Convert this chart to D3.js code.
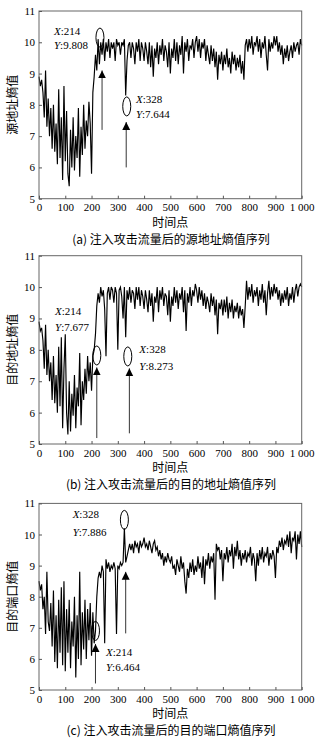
<!DOCTYPE html>
<html>
<head>
<meta charset="utf-8">
<script src="https://cdn.jsdelivr.net/npm/d3@7"></script>
<style>
  html, body { margin: 0; padding: 0; background: #fff; }
  svg { display: block; }
</style>
</head>
<body>
<div id="chart"></div>
<script>
// sample spacing of the series (time points)
const step = 5;
const xTicks = [0, 100, 200, 300, 400, 500, 600, 700, 800, 900, 1000];
const xTickLabels = ['0', '100', '200', '300', '400', '500', '600', '700', '800', '900', '1 000'];
const yTicks = [5, 6, 7, 8, 9, 10, 11];

const srcEntropy = [
  8.9, 8.6, 8.8, 8.4, 7.6, 9.1, 7.3, 8.2, 7.0, 7.9, 6.6, 8.0, 6.5, 7.4, 6.1, 8.5, 6.3, 7.6, 5.6, 8.6,
  6.2, 7.8, 5.8, 5.4, 7.2, 6.0, 7.6, 5.9, 7.0, 6.3, 7.9, 5.7, 7.3, 6.4, 8.0, 6.6, 7.5, 7.0, 8.1, 7.4,
  5.8, 8.4, 8.9, 9.6, 9.1, 10.1, 9.3, 10.0, 9.6, 10.1, 9.4, 10.0, 9.7, 10.1, 9.5, 10.0, 9.8, 10.0, 9.4, 10.1,
  9.9, 10.0, 9.6, 10.0, 9.9, 10.1, 8.3, 9.4, 9.9, 10.0, 9.5, 10.0, 9.8, 9.3, 10.0, 9.7, 10.1, 9.4, 10.0, 9.8,
  9.4, 10.0, 9.7, 9.3, 10.0, 9.2, 9.9, 8.9, 9.8, 9.5, 10.0, 9.3, 9.9, 9.6, 10.1, 9.4, 9.9, 9.7, 9.2, 10.0,
  9.0, 9.8, 9.5, 10.1, 9.4, 10.0, 9.3, 9.9, 9.6, 10.2, 9.0, 10.0, 9.7, 10.1, 9.4, 9.9, 9.8, 10.1, 9.5, 10.0,
  10.2, 9.7, 10.1, 9.5, 10.0, 9.8, 10.1, 9.4, 9.9, 9.6, 9.3, 9.9, 9.4, 9.8, 9.2, 9.7, 8.8, 9.6, 9.3, 9.7,
  9.1, 9.6, 9.3, 9.8, 9.2, 9.5, 9.0, 9.7, 9.3, 9.6, 9.1, 9.5, 9.2, 9.6, 9.0, 9.4, 8.8, 9.9, 10.1, 9.7,
  10.1, 9.8, 10.2, 9.6, 10.0, 9.9, 10.2, 9.7, 10.1, 9.5, 10.0, 9.8, 10.2, 9.6, 9.1, 10.1, 9.7, 10.0, 9.8, 10.2,
  9.9, 10.2, 9.7, 10.0, 9.6, 9.9, 9.3, 9.8, 9.5, 9.9, 9.4, 9.7, 9.9, 9.5, 10.0, 9.7, 9.9, 10.0, 9.6, 10.1,
  9.9
];

const dstEntropy = [
  8.9, 8.6, 8.7, 8.3, 7.4, 8.8, 7.2, 8.0, 7.0, 7.6, 6.4, 7.8, 6.3, 7.2, 6.0, 8.1, 6.2, 8.4, 5.5, 7.4,
  8.5, 6.0, 5.3, 7.0, 5.4, 6.6, 5.9, 7.2, 5.5, 6.8, 6.2, 7.9, 5.6, 7.0, 6.4, 7.4, 6.6, 7.8, 7.0, 7.6,
  6.7, 7.8, 8.0, 8.5, 9.4, 9.8, 9.5, 10.0, 9.7, 9.9, 9.3, 7.8, 9.8, 10.0, 9.6, 10.0, 9.9, 9.5, 10.0, 9.8,
  8.0, 9.9, 10.0, 9.7, 9.0, 10.0, 8.4, 9.9, 9.6, 10.0, 9.5, 9.9, 9.8, 9.3, 10.0, 9.6, 10.0, 9.4, 9.9, 9.7,
  9.3, 9.9, 9.6, 9.2, 9.9, 9.4, 9.8, 8.9, 9.7, 9.5, 10.0, 9.2, 9.9, 9.6, 10.0, 9.4, 9.8, 9.7, 9.1, 9.9,
  8.9, 9.7, 9.4, 10.0, 9.5, 9.9, 9.3, 9.8, 9.6, 10.0, 9.2, 9.9, 8.6, 9.8, 9.5, 10.0, 9.4, 9.9, 9.7, 10.1,
  9.9, 9.5, 10.0, 9.6, 9.9, 9.4, 9.8, 9.3, 9.7, 9.5, 9.2, 9.8, 9.4, 9.7, 9.1, 9.6, 8.5, 9.5, 9.3, 9.6,
  9.1, 9.6, 9.2, 9.7, 9.0, 9.5, 9.2, 9.6, 9.0, 9.4, 9.2, 9.5, 9.0, 9.4, 9.1, 9.3, 8.7, 9.4, 10.2, 9.6,
  10.0, 9.7, 10.1, 9.5, 9.9, 9.7, 10.0, 9.4, 9.9, 9.6, 10.1, 9.5, 9.9, 9.1, 9.8, 10.2, 9.6, 10.0, 9.7, 10.1,
  9.8, 10.0, 9.6, 9.9, 9.4, 9.8, 9.5, 9.9, 9.6, 10.0, 9.4, 9.8, 9.6, 10.0, 9.5, 9.9, 10.1, 9.7, 10.0, 10.1,
  10.0
];

const portEntropy = [
  8.5, 8.2, 8.4, 7.6, 8.0, 6.8, 8.8, 7.2, 6.9, 7.8, 6.4, 8.2, 5.9, 7.4, 5.7, 7.9, 6.2, 8.3, 5.8, 8.5,
  5.6, 7.6, 6.2, 7.9, 5.7, 7.2, 6.4, 8.0, 5.4, 7.4, 6.0, 8.8, 5.8, 7.5, 6.3, 7.9, 6.0, 7.6, 6.6, 7.8,
  6.1, 7.5, 6.5, 6.9, 8.0, 8.6, 8.8, 8.6, 9.0, 8.8, 6.5, 9.2, 8.9, 9.1, 8.8, 9.0, 8.9, 9.1, 8.9, 6.8,
  9.0, 8.9, 9.1, 9.0, 9.1, 10.2, 9.1, 9.3, 9.5, 9.7, 9.5, 9.7, 9.4, 9.8, 9.6, 9.7, 9.4, 9.8, 9.6, 9.7,
  9.9, 9.6, 9.7, 9.5, 9.8, 9.6, 9.4, 9.7, 9.8, 9.5, 9.6, 9.3, 9.5, 9.2, 9.4, 9.0, 9.3, 9.1, 9.4, 9.2,
  9.1, 9.3, 8.9, 9.0, 8.7, 9.2, 9.0, 8.8, 9.3, 8.9, 9.1, 8.5, 8.1, 8.9, 8.6, 9.1, 8.8, 9.2, 8.7, 9.0,
  8.8, 9.3, 8.9, 9.1, 8.6, 9.3, 8.4, 9.2, 9.0, 9.4, 8.9, 9.3, 9.1, 9.4, 7.9, 9.7, 9.5, 9.6, 9.2, 9.5,
  8.5, 9.4, 9.2, 9.6, 9.1, 9.5, 9.3, 9.7, 8.9, 9.6, 9.3, 9.8, 9.2, 9.5, 9.0, 9.4, 9.2, 9.5, 9.1, 9.4,
  9.3, 9.6, 9.0, 9.4, 9.2, 8.5, 9.4, 9.0, 9.5, 9.2, 9.6, 9.1, 9.4, 9.3, 9.6, 9.0, 9.4, 9.2, 9.5, 9.3,
  8.6, 9.6, 9.4, 9.8, 9.6, 9.9, 9.5, 9.8, 9.7, 10.0, 9.6, 10.1, 9.4, 9.9, 9.8, 10.1, 9.2, 10.0, 9.7, 10.1,
  9.6
];

const yTitles = ['源地址熵值', '目的地址熵值', '目的端口熵值'];
const captions = ['(a) 注入攻击流量后的源地址熵值序列', '(b) 注入攻击流量后的目的地址熵值序列', '(c) 注入攻击流量后的目的端口熵值序列'];

// annotations, in data units: ellipse centres, arrows (x, tail, tip), text (x, baseline values)
const marksA = [
  { cx: 232, cy: 10.15, ax: 240, a0: 7.2, a1: 9.1, tx: 57, t1: 10.23, t2: 9.78, xs: '214', ys: '9.808' },
  { cx: 334, cy: 7.95, ax: 332, a0: 6.0, a1: 7.45, tx: 369, t1: 8.07, t2: 7.57, xs: '328', ys: '7.644' }
];
const marksB = [
  { cx: 220, cy: 7.82, ax: 220, a0: 5.19, a1: 7.44, tx: 61, t1: 9.11, t2: 8.61, xs: '214', ys: '7.677' },
  { cx: 338, cy: 7.79, ax: 344, a0: 5.34, a1: 7.41, tx: 382, t1: 7.89, t2: 7.36, xs: '328', ys: '8.273' }
];
const marksC = [
  { cx: 325, cy: 10.47, ax: 330, a0: 6.82, a1: 8.8, tx: 128, t1: 10.52, t2: 9.96, xs: '328', ys: '7.886' },
  { cx: 215, cy: 6.9, ax: 215, a0: 5.21, a1: 6.48, tx: 255, t1: 6.1, t2: 5.6, xs: '214', ys: '6.464' }
];

const W = 324, H = 742;
const svg = d3.select('#chart').append('svg').attr('width', W).attr('height', H);

svg.append('defs').append('marker')
  .attr('id', 'head').attr('viewBox', '0 0 8 10').attr('refX', 8).attr('refY', 5)
  .attr('markerWidth', 8).attr('markerHeight', 10).attr('markerUnits', 'userSpaceOnUse')
  .attr('orient', 'auto')
  .append('path').attr('d', 'M0,1 L8,5 L0,9 Z').attr('fill', '#000');

const panels = [
  { values: srcEntropy, marks: marksA, top: 11, bottom: 198.7 },
  { values: dstEntropy, marks: marksB, top: 255.7, bottom: 444 },
  { values: portEntropy, marks: marksC, top: 503.4, bottom: 690 }
];
const left = 39, right = 301.7;
const serif = '"Liberation Serif", "DejaVu Serif", serif';
const cjk = '"Noto Sans CJK SC", sans-serif';

panels.forEach((p, i) => {
  const x = d3.scaleLinear().domain([0, 1000]).range([left, right]);
  const y = d3.scaleLinear().domain([5, 11]).range([p.bottom, p.top]);
  const g = svg.append('g');

  // series
  const line = d3.line().x((d, j) => x(j * step)).y(d => y(d));
  g.append('path').datum(p.values).attr('d', line)
    .attr('fill', 'none').attr('stroke', '#000').attr('stroke-width', 1.15)
    .attr('stroke-linejoin', 'miter');

  // frame
  g.append('rect').attr('x', left).attr('y', p.top)
    .attr('width', right - left).attr('height', p.bottom - p.top)
    .attr('fill', 'none').attr('stroke', '#666').attr('stroke-width', 1);

  // inward ticks
  const xa = g.append('g').attr('transform', `translate(0,${p.bottom})`)
    .call(d3.axisBottom(x).tickValues(xTicks).tickSizeInner(-3).tickSizeOuter(0)
      .tickFormat((d, k) => xTickLabels[k]));
  xa.select('.domain').remove();
  xa.selectAll('line').attr('stroke', '#555');
  xa.selectAll('text').attr('y', 5).attr('dy', '0.71em')
    .style('font-family', serif).style('font-size', '11px').attr('fill', '#000');

  const ya = g.append('g').attr('transform', `translate(${left},0)`)
    .call(d3.axisLeft(y).tickValues(yTicks).tickSizeInner(-3).tickSizeOuter(0).tickFormat(d3.format('d')));
  ya.select('.domain').remove();
  ya.selectAll('line').attr('stroke', '#555');
  ya.selectAll('text').attr('x', -4)
    .style('font-family', serif).style('font-size', '11px').attr('fill', '#000');

  // titles
  g.append('text').attr('transform', `translate(17,${(p.top + p.bottom) / 2}) rotate(-90)`)
    .attr('text-anchor', 'middle').style('font-family', cjk).style('font-size', '12px')
    .text(yTitles[i]);
  g.append('text').attr('x', (left + right) / 2).attr('y', p.bottom + 28)
    .attr('text-anchor', 'middle').style('font-family', cjk).style('font-size', '12px')
    .text('时间点');
  g.append('text').attr('x', 171).attr('y', p.bottom + 45)
    .attr('text-anchor', 'middle').style('font-family', cjk).style('font-size', '12px')
    .text(captions[i]);

  // annotations
  p.marks.forEach(m => {
    g.append('ellipse').attr('cx', x(m.cx)).attr('cy', y(m.cy)).attr('rx', 4).attr('ry', 9.5)
      .attr('fill', 'none').attr('stroke', '#000').attr('stroke-width', 1);
    g.append('line').attr('x1', x(m.ax)).attr('x2', x(m.ax)).attr('y1', y(m.a0)).attr('y2', y(m.a1))
      .attr('stroke', '#000').attr('stroke-width', 0.8).attr('marker-end', 'url(#head)');
    const t1 = g.append('text').attr('x', x(m.tx)).attr('y', y(m.t1))
      .style('font-family', serif).style('font-size', '11px');
    t1.append('tspan').style('font-style', 'italic').text('X');
    t1.append('tspan').text(':' + m.xs);
    const t2 = g.append('text').attr('x', x(m.tx)).attr('y', y(m.t2))
      .style('font-family', serif).style('font-size', '11px');
    t2.append('tspan').style('font-style', 'italic').text('Y');
    t2.append('tspan').text(':' + m.ys);
  });
});
</script>
</body>
</html>
